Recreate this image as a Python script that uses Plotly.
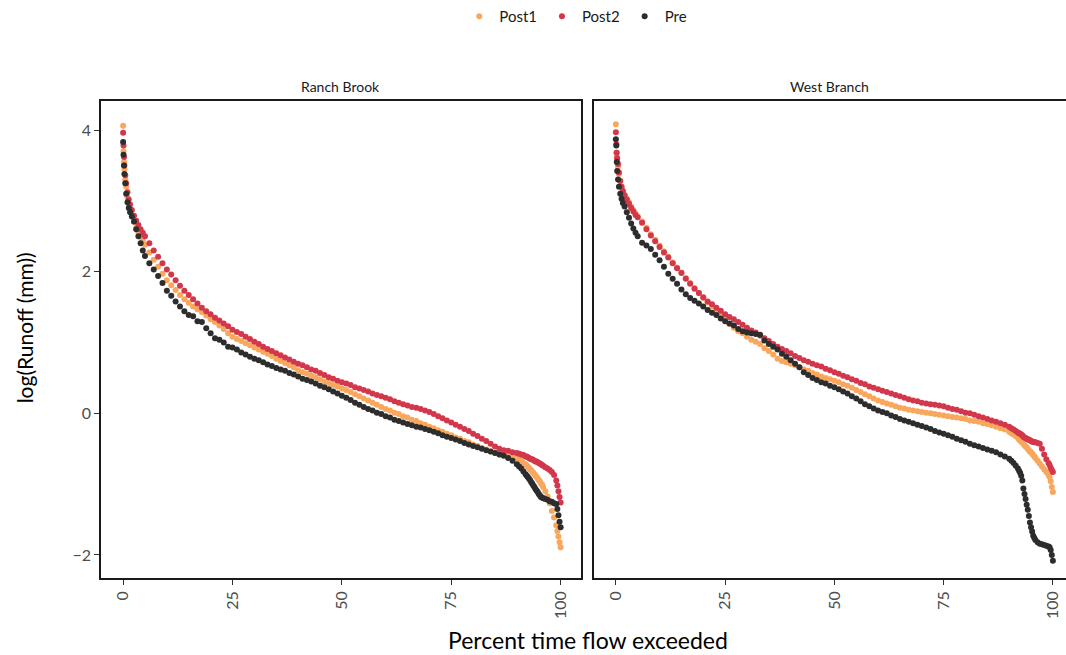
import plotly.graph_objects as go

# percent of time flow exceeded (shared grid for every series)
pct = [0, 0.1, 0.2, 0.3, 0.5, 0.7, 1, 1.3, 1.6, 2, 2.5, 3, 3.5, 4, 4.5,
       5, 6, 7, 8, 9, 10, 11, 12, 13, 14,
       15, 16, 17, 18, 19, 20, 21, 22, 23, 24,
       25, 26, 27, 28, 29, 30, 31, 32, 33, 34,
       35, 36, 37, 38, 39, 40, 41, 42, 43, 44,
       45, 46, 47, 48, 49, 50, 51, 52, 53, 54,
       55, 56, 57, 58, 59, 60, 61, 62, 63, 64,
       65, 66, 67, 68, 69, 70, 71, 72, 73, 74,
       75, 76, 77, 78, 79, 80, 81, 82, 83, 84,
       85, 86, 87, 88, 89,
       90, 90.5, 91, 91.5, 92, 92.25, 92.5, 92.75, 93, 93.25, 93.5, 93.75, 94, 94.25, 94.5,
       94.75, 95, 95.25, 95.5, 95.75, 96, 96.5, 97, 97.5, 98, 98.5, 99, 99.25, 99.5, 99.75, 100]

#### Ranch Brook
rb_post1 = [4.06, 3.70, 3.55, 3.45, 3.30, 3.20, 3.05, 2.95, 2.88, 2.80, 2.70, 2.62, 2.55, 2.49, 2.43,
            2.38, 2.27, 2.17, 2.07, 1.97, 1.88, 1.81, 1.74, 1.67, 1.61,
            1.56, 1.51, 1.47, 1.43, 1.38, 1.33, 1.29, 1.24, 1.19, 1.13,
            1.08, 1.05, 1.02, 0.99, 0.96, 0.93, 0.90, 0.87, 0.84, 0.81,
            0.77, 0.74, 0.71, 0.68, 0.65, 0.61, 0.58, 0.56, 0.53, 0.51,
            0.48, 0.45, 0.43, 0.40, 0.38, 0.35, 0.33, 0.30, 0.27, 0.24,
            0.21, 0.18, 0.15, 0.12, 0.09, 0.06, 0.04, 0.01, -0.01, -0.04,
            -0.06, -0.09, -0.11, -0.14, -0.16, -0.19, -0.21, -0.24, -0.26, -0.29,
            -0.31, -0.34, -0.36, -0.39, -0.41, -0.44, -0.46, -0.49, -0.51, -0.54,
            -0.56, -0.58, -0.59, -0.60, -0.61,
            -0.63, -0.65, -0.67, -0.70, -0.72, -0.74, -0.75, -0.77, -0.79, -0.80, -0.82, -0.84, -0.86, -0.88, -0.90,
            -0.92, -0.94, -0.96, -0.99, -1.01, -1.04, -1.10, -1.17, -1.27, -1.38, -1.47, -1.58, -1.66, -1.74, -1.82, -1.89]

rb_post2 = [3.96, 3.78, 3.62, 3.50, 3.36, 3.25, 3.12, 3.02, 2.95, 2.87, 2.79, 2.72, 2.66, 2.60, 2.55,
            2.50, 2.40, 2.30, 2.21, 2.12, 2.03, 1.96, 1.88, 1.80, 1.73,
            1.67, 1.61, 1.55, 1.49, 1.44, 1.40, 1.35, 1.31, 1.27, 1.23,
            1.18, 1.15, 1.12, 1.08, 1.05, 1.01, 0.98, 0.94, 0.91, 0.88,
            0.85, 0.82, 0.79, 0.76, 0.73, 0.70, 0.68, 0.65, 0.62, 0.60,
            0.57, 0.54, 0.51, 0.49, 0.46, 0.44, 0.42, 0.40, 0.37, 0.35,
            0.33, 0.31, 0.28, 0.26, 0.24, 0.22, 0.20, 0.17, 0.15, 0.13,
            0.11, 0.09, 0.08, 0.06, 0.04, 0.02, -0.01, -0.04, -0.07, -0.10,
            -0.13, -0.16, -0.19, -0.22, -0.25, -0.29, -0.32, -0.36, -0.39, -0.43,
            -0.47, -0.50, -0.52, -0.53, -0.55,
            -0.56, -0.57, -0.58, -0.59, -0.61, -0.61, -0.62, -0.63, -0.64, -0.65, -0.65, -0.66, -0.67, -0.68, -0.68,
            -0.69, -0.70, -0.71, -0.72, -0.73, -0.74, -0.76, -0.78, -0.80, -0.83, -0.87, -0.95, -1.02, -1.10, -1.18, -1.26]

rb_pre = [3.83, 3.65, 3.50, 3.38, 3.25, 3.10, 2.98, 2.90, 2.84, 2.78, 2.71, 2.60, 2.50, 2.40, 2.30,
          2.22, 2.12, 2.03, 1.94, 1.84, 1.73, 1.66, 1.58, 1.51, 1.44,
          1.39, 1.37, 1.30, 1.29, 1.20, 1.13, 1.06, 1.04, 1.00, 0.94,
          0.93, 0.90, 0.86, 0.83, 0.80, 0.77, 0.75, 0.72, 0.69, 0.67,
          0.64, 0.62, 0.60, 0.57, 0.55, 0.52, 0.49, 0.47, 0.45, 0.42,
          0.39, 0.37, 0.34, 0.31, 0.28, 0.25, 0.22, 0.19, 0.15, 0.12,
          0.09, 0.06, 0.04, 0.01, -0.01, -0.04, -0.06, -0.09, -0.11, -0.13,
          -0.15, -0.17, -0.19, -0.20, -0.22, -0.24, -0.26, -0.28, -0.31, -0.33,
          -0.35, -0.37, -0.39, -0.42, -0.44, -0.46, -0.48, -0.50, -0.52, -0.54,
          -0.56, -0.58, -0.60, -0.63, -0.67,
          -0.72, -0.75, -0.78, -0.82, -0.86, -0.88, -0.90, -0.92, -0.94, -0.97, -0.99, -1.02, -1.04, -1.07, -1.09,
          -1.11, -1.14, -1.16, -1.18, -1.19, -1.20, -1.21, -1.22, -1.24, -1.25, -1.27, -1.28, -1.35, -1.44, -1.53, -1.61]

#### West Branch
wb_post1 = [4.08, 3.68, 3.62, 3.56, 3.48, 3.38, 3.28, 3.20, 3.14, 3.08, 3.03, 2.98, 2.92, 2.87, 2.82,
            2.78, 2.71, 2.62, 2.53, 2.45, 2.37, 2.29, 2.21, 2.13, 2.06,
            1.99, 1.91, 1.84, 1.77, 1.70, 1.63, 1.57, 1.51, 1.46, 1.41,
            1.36, 1.26, 1.21, 1.16, 1.13, 1.08, 1.04, 1.01, 0.98, 0.92,
            0.88, 0.83, 0.77, 0.74, 0.72, 0.70, 0.68, 0.65, 0.62, 0.60,
            0.57, 0.55, 0.52, 0.50, 0.48, 0.46, 0.44, 0.41, 0.39, 0.36,
            0.33, 0.30, 0.27, 0.24, 0.21, 0.18, 0.16, 0.14, 0.12, 0.10,
            0.08, 0.07, 0.05, 0.04, 0.03, 0.02, 0.01, 0.00, -0.01, -0.02,
            -0.03, -0.04, -0.05, -0.06, -0.07, -0.08, -0.10, -0.11, -0.12, -0.14,
            -0.15, -0.17, -0.19, -0.21, -0.23,
            -0.26, -0.28, -0.30, -0.32, -0.35, -0.37, -0.38, -0.40, -0.41, -0.43, -0.45, -0.47, -0.48, -0.50, -0.52,
            -0.54, -0.55, -0.57, -0.59, -0.61, -0.63, -0.67, -0.71, -0.75, -0.79, -0.83, -0.87, -0.90, -0.96, -1.04, -1.11]

wb_post2 = [3.97, 3.80, 3.68, 3.60, 3.52, 3.40, 3.28, 3.20, 3.14, 3.08, 3.02, 2.96, 2.90, 2.85, 2.80,
            2.77, 2.69, 2.60, 2.51, 2.43, 2.35, 2.27, 2.20, 2.12, 2.05,
            1.98, 1.90, 1.83, 1.76, 1.70, 1.64, 1.58, 1.54, 1.49, 1.45,
            1.40, 1.36, 1.33, 1.29, 1.25, 1.21, 1.17, 1.14, 1.10, 1.06,
            1.02, 0.98, 0.94, 0.91, 0.88, 0.85, 0.81, 0.78, 0.75, 0.73,
            0.70, 0.68, 0.66, 0.63, 0.61, 0.58, 0.56, 0.53, 0.51, 0.48,
            0.46, 0.43, 0.41, 0.38, 0.36, 0.34, 0.32, 0.30, 0.28, 0.26,
            0.24, 0.22, 0.20, 0.18, 0.17, 0.15, 0.14, 0.13, 0.12, 0.11,
            0.10, 0.08, 0.06, 0.05, 0.03, 0.01, 0.00, -0.02, -0.04, -0.06,
            -0.08, -0.10, -0.12, -0.14, -0.16,
            -0.19, -0.21, -0.23, -0.25, -0.27, -0.28, -0.29, -0.30, -0.31, -0.33, -0.34, -0.35, -0.36, -0.37, -0.37,
            -0.38, -0.39, -0.40, -0.40, -0.41, -0.41, -0.42, -0.43, -0.50, -0.58, -0.65, -0.70, -0.73, -0.77, -0.80, -0.83]

wb_pre = [3.87, 3.78, 3.55, 3.42, 3.30, 3.20, 3.10, 3.03, 2.97, 2.92, 2.84, 2.76, 2.68, 2.61, 2.55,
          2.50, 2.41, 2.37, 2.32, 2.24, 2.16, 2.07, 1.97, 1.90, 1.83,
          1.75, 1.68, 1.63, 1.59, 1.55, 1.51, 1.46, 1.42, 1.39, 1.34,
          1.30, 1.27, 1.24, 1.19, 1.16, 1.14, 1.13, 1.12, 1.11, 1.03,
          0.98, 0.94, 0.90, 0.84, 0.80, 0.75, 0.70, 0.65, 0.58, 0.54,
          0.50, 0.47, 0.44, 0.42, 0.39, 0.37, 0.34, 0.31, 0.28, 0.24,
          0.21, 0.17, 0.13, 0.10, 0.07, 0.04, 0.02, 0.00, -0.03, -0.05,
          -0.08, -0.10, -0.12, -0.14, -0.16, -0.18, -0.20, -0.22, -0.25, -0.27,
          -0.29, -0.31, -0.33, -0.36, -0.38, -0.40, -0.43, -0.45, -0.47, -0.49,
          -0.51, -0.53, -0.55, -0.58, -0.61,
          -0.64, -0.67, -0.70, -0.74, -0.78, -0.81, -0.84, -0.88, -0.95, -1.06, -1.14, -1.21, -1.29, -1.36, -1.45,
          -1.54, -1.61, -1.67, -1.73, -1.76, -1.79, -1.82, -1.84, -1.85, -1.86, -1.87, -1.88, -1.89, -1.93, -2.00, -2.08]

sites = ['Ranch Brook', 'West Branch']
periods = ['Post1', 'Post2', 'Pre']
colors = {'Post1': '#F9A75C', 'Post2': '#D2374B', 'Pre': '#2D2D2D'}
series = {
    'Ranch Brook': {'Post1': rb_post1, 'Post2': rb_post2, 'Pre': rb_pre},
    'West Branch': {'Post1': wb_post1, 'Post2': wb_post2, 'Pre': wb_pre},
}

FONT = 'Lato'

fig = go.Figure()

for site_i, site in enumerate(sites):
    xa = 'x' if site_i == 0 else 'x2'
    ya = 'y' if site_i == 0 else 'y2'
    for period in periods:
        fig.add_trace(
            go.Scatter(
                x=pct,
                y=series[site][period],
                mode='markers',
                name=period,
                legendgroup=period,
                showlegend=(site_i == 0),
                marker=dict(color=colors[period], size=6, line=dict(width=0)),
                xaxis=xa,
                yaxis=ya,
            )
        )

axis_common = dict(
    showline=True, linecolor='#1a1a1a', linewidth=1.6, mirror=True,
    showgrid=False, zeroline=False,
    tickfont=dict(family=FONT, size=16, color='#4d4d4d'),
    ticks='outside', ticklen=5, tickcolor='#333333', tickwidth=1,
)

fig.update_layout(
    width=1066, height=655,
    margin=dict(l=101, r=0, t=101, b=77),
    plot_bgcolor='white', paper_bgcolor='white',
    font=dict(family=FONT, color='#1a1a1a'),
    xaxis=dict(domain=[0, 0.4974], range=[-5.05, 104.65], tickvals=[0, 25, 50, 75, 100],
               tickangle=-90, anchor='y', **axis_common),
    xaxis2=dict(domain=[0.5109, 1], range=[-5.0, 103.0], tickvals=[0, 25, 50, 75, 100],
                tickangle=-90, anchor='y2', **axis_common),
    yaxis=dict(domain=[0, 1], range=[-2.325, 4.41], tickvals=[-2, 0, 2, 4], anchor='x', **axis_common),
    # right panel runs off the page edge: no right border
    yaxis2=dict(domain=[0, 1], range=[-2.325, 4.41], anchor='x2',
                **{**axis_common, 'ticks': '', 'mirror': False}, showticklabels=False),
    legend=dict(orientation='h', x=0.492, xanchor='center', y=1.178, yanchor='middle',
                font=dict(family=FONT, size=15, color='#1a1a1a'), itemwidth=30,
                bgcolor='rgba(0,0,0,0)'),
    showlegend=True,
)

# facet strip labels
fig.add_annotation(text='Ranch Brook', x=0.2487, y=1.031, xref='paper', yref='paper',
                   xanchor='center', yanchor='middle', showarrow=False,
                   font=dict(family=FONT, size=14, color='#1a1a1a'))
fig.add_annotation(text='West Branch', x=0.7553, y=1.031, xref='paper', yref='paper',
                   xanchor='center', yanchor='middle', showarrow=False,
                   font=dict(family=FONT, size=14, color='#1a1a1a'))

# axis titles
fig.add_annotation(text='Percent time flow exceeded', x=0.505, y=-0.13, xref='paper', yref='paper',
                   xanchor='center', yanchor='middle', showarrow=False,
                   font=dict(family=FONT, size=23, color='#000000'))
fig.add_annotation(text='log(Runoff (mm))', x=-0.079, y=0.525, xref='paper', yref='paper',
                   xanchor='center', yanchor='middle', textangle=-90, showarrow=False,
                   font=dict(family=FONT, size=21, color='#000000'))

fig.write_html("out.html", config={'displayModeBar': False},
               post_script="document.body.style.margin='0';")
